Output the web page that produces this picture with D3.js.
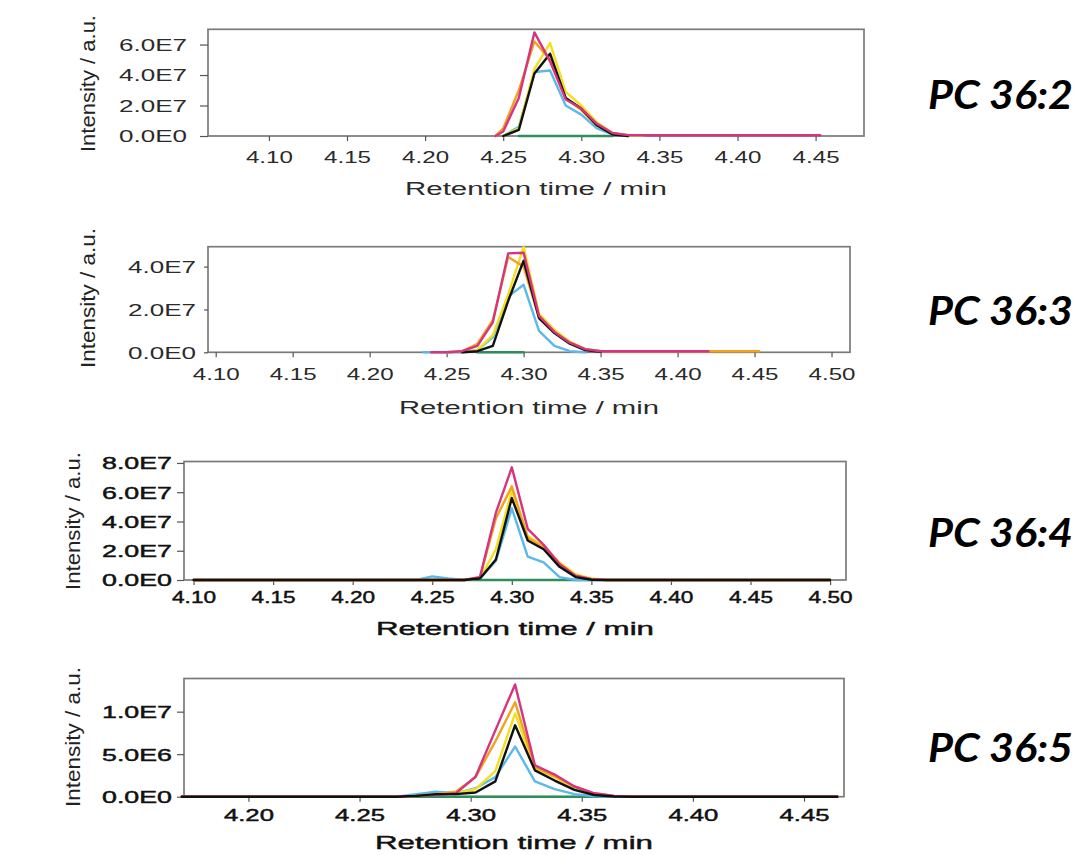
<!DOCTYPE html>
<html><head><meta charset="utf-8">
<script src="https://cdn.jsdelivr.net/npm/d3@7"></script>
<style>html,body{margin:0;padding:0;background:#fff;} svg{display:block;}</style>
</head><body>
<svg id="c" width="1082" height="855"></svg>
<script>
// ---------------- DATA ----------------
const compoundLabels = ["PC 36:2", "PC 36:3", "PC 36:4", "PC 36:5"];

// Panel 1 : PC 36:2
const p1Times  = [4.245, 4.25, 4.26, 4.27, 4.28, 4.29, 4.30, 4.31, 4.32, 4.33, 4.34, 4.453];
const p1Pink   = [0, 0.3e7, 2.5e7, 6.8e7, 4.9e7, 2.4e7, 1.8e7, 0.8e7, 0.2e7, 0.06e7, 0.05e7, 0.05e7];
const p1Orange = [0, 0.5e7, 3.0e7, 6.2e7, 5.0e7, 2.5e7, 1.7e7, 0.7e7, 0.15e7, 0.05e7, null, null];
const p1Yellow = [null, 0, 0.5e7, 4.4e7, 6.1e7, 2.9e7, 2.0e7, 0.9e7, 0.2e7, 0.05e7, 0.03e7, null];
const p1Black  = [null, 0, 0.4e7, 4.1e7, 5.4e7, 2.5e7, 1.8e7, 0.7e7, 0.1e7, 0, null, null];
const p1Blue   = [null, 0, 0.6e7, 4.2e7, 4.3e7, 2.0e7, 1.4e7, 0.5e7, 0.1e7, 0, null, null];
const p1Green  = [null, null, 0, 0, 0, 0, 0, 0, 0, null, null, null];
const p1XTicks = [4.10, 4.15, 4.20, 4.25, 4.30, 4.35, 4.40, 4.45];
const p1YTicks = [0, 2e7, 4e7, 6e7];
const p1YTickLabels = ["0.0E0", "2.0E7", "4.0E7", "6.0E7"];

// Panel 2 : PC 36:3
const p2Times  = [4.235, 4.24, 4.25, 4.26, 4.27, 4.28, 4.29, 4.30, 4.31, 4.32, 4.33, 4.34, 4.35, 4.42, 4.453];
const p2Pink   = [null, 0, 0, 0.05e7, 0.3e7, 1.4e7, 4.62e7, 4.65e7, 1.7e7, 0.95e7, 0.45e7, 0.15e7, 0.05e7, 0.05e7, null];
const p2Orange = [null, null, 0, 0.05e7, 0.4e7, 1.5e7, 4.45e7, 4.0e7, 1.6e7, 0.95e7, 0.45e7, 0.15e7, 0.05e7, 0.05e7, 0.05e7];
const p2Yellow = [null, null, null, 0, 0.1e7, 0.8e7, 2.7e7, 4.93e7, 1.8e7, 1.05e7, 0.5e7, 0.15e7, 0.05e7, null, null];
const p2Black  = [null, null, null, 0, 0.05e7, 0.3e7, 2.4e7, 4.28e7, 1.6e7, 0.9e7, 0.4e7, 0.1e7, 0.02e7, null, null];
const p2Blue   = [0, 0, 0, 0, 0.1e7, 0.7e7, 2.6e7, 3.15e7, 1.0e7, 0.3e7, 0.05e7, 0, null, null, null];
const p2Green  = [null, null, null, null, 0, 0, 0, 0, null, null, null, null, null, null, null];
const p2XTicks = [4.10, 4.15, 4.20, 4.25, 4.30, 4.35, 4.40, 4.45, 4.50];
const p2YTicks = [0, 2e7, 4e7];
const p2YTickLabels = ["0.0E0", "2.0E7", "4.0E7"];

// Panel 3 : PC 36:4
const p3Times  = [4.10, 4.24, 4.25, 4.26, 4.27, 4.28, 4.29, 4.30, 4.31, 4.32, 4.33, 4.34, 4.35, 4.36, 4.50];
const p3Pink   = [0, 0, 0, 0, 0, 0.2e7, 4.6e7, 7.7e7, 3.5e7, 2.4e7, 1.1e7, 0.3e7, 0.05e7, 0, 0];
const p3Orange = [0, 0, 0, 0, 0, 0.2e7, 4.2e7, 6.4e7, 2.9e7, 2.2e7, 1.0e7, 0.3e7, 0.05e7, 0, 0];
const p3Yellow = [0, 0, 0, 0, 0, 0.1e7, 2.1e7, 6.1e7, 3.0e7, 2.3e7, 1.2e7, 0.4e7, 0.1e7, 0, 0];
const p3Black  = [0, 0, 0, 0, 0, 0.1e7, 1.4e7, 5.6e7, 2.7e7, 2.1e7, 0.9e7, 0.2e7, 0.02e7, 0, 0];
const p3Blue   = [0, 0, 0.25e7, 0.1e7, 0, 0.1e7, 1.3e7, 4.9e7, 1.6e7, 1.2e7, 0.2e7, 0, 0, 0, 0];
const p3Green  = [0, 0, 0, 0, 0, 0, 0, 0, 0, 0, 0, 0, 0, 0, 0];
const p3XTicks = [4.10, 4.15, 4.20, 4.25, 4.30, 4.35, 4.40, 4.45, 4.50];
const p3YTicks = [0, 2e7, 4e7, 6e7, 8e7];
const p3YTickLabels = ["0.0E0", "2.0E7", "4.0E7", "6.0E7", "8.0E7"];

// Panel 4 : PC 36:5
const p4Times  = [4.17, 4.2666, 4.2755, 4.2844, 4.2933, 4.3022, 4.3111, 4.32, 4.3289, 4.3378, 4.3467, 4.3556, 4.3645, 4.3734, 4.465];
const p4Pink   = [0, 0, 0.1e6, 0.2e6, 0.4e6, 2.35e6, 7.8e6, 13.2e6, 3.7e6, 2.6e6, 1.2e6, 0.4e6, 0.1e6, 0, 0];
const p4Orange = [0, 0, 0.1e6, 0.3e6, 0.6e6, 2.3e6, 6.5e6, 11.1e6, 3.5e6, 2.4e6, 1.2e6, 0.4e6, 0.1e6, 0, 0];
const p4Yellow = [0, 0, 0.1e6, 0.3e6, 0.4e6, 0.9e6, 3.0e6, 9.8e6, 3.3e6, 2.3e6, 1.0e6, 0.3e6, 0.05e6, 0, 0];
const p4Black  = [0, 0, 0.1e6, 0.3e6, 0.3e6, 0.5e6, 1.8e6, 8.4e6, 3.1e6, 1.9e6, 0.8e6, 0.2e6, 0.02e6, 0, 0];
const p4Blue   = [0, 0, 0.3e6, 0.6e6, 0.4e6, 1.0e6, 2.3e6, 5.9e6, 1.8e6, 0.9e6, 0.3e6, 0.05e6, 0, 0, 0];
const p4Green  = [0, 0, 0, 0, 0, 0, 0, 0, 0, 0, 0, 0, 0, 0, 0];
const p4XTicks = [4.20, 4.25, 4.30, 4.35, 4.40, 4.45];
const p4YTicks = [0, 5e6, 1e7];
const p4YTickLabels = ["0.0E0", "5.0E6", "1.0E7"];

// ---------------- STYLE / LAYOUT ----------------
const seriesColors = {
  green: "#2f8f5b", blue: "#5bb9ea", yellow: "#f3df1e",
  orange: "#f2a21c", black: "#111111", pink: "#d5347f"
};
const orderTop = ["green", "blue", "yellow", "orange", "black", "pink"];
const orderBottom = ["green", "blue", "yellow", "orange", "pink", "black"];

const panels = [
  { times: p1Times, values: {pink:p1Pink, orange:p1Orange, yellow:p1Yellow, black:p1Black, blue:p1Blue, green:p1Green},
    xTicks: p1XTicks, yTicks: p1YTicks, yLabels: p1YTickLabels, order: orderTop, ink: "#2a2a2a", heavy: 0,
    l: 208, r: 864, t: 29.3, b: 136, xd: [4.061, 4.481], yd: [0, 7.0e7],
    yTickSize: 8, yLabelGap: 21, yLabW: 68, xLabY: 20.7, xLabW: 47, titleY: 53, titleW: 262, titleF: 18,
    axTitleX: 88, axTitleY: 83.5, axTitleLen: 137, compY: 95 },
  { times: p2Times, values: {pink:p2Pink, orange:p2Orange, yellow:p2Yellow, black:p2Black, blue:p2Blue, green:p2Green},
    xTicks: p2XTicks, yTicks: p2YTicks, yLabels: p2YTickLabels, order: orderTop, ink: "#2a2a2a", heavy: 0,
    l: 208, r: 850, t: 246.7, b: 352.3, xd: [4.095, 4.512], yd: [0, 4.93e7],
    yTickSize: 4, yLabelGap: 12, yLabW: 68, xLabY: 21.7, xLabW: 47, titleY: 55, titleW: 260, titleF: 18,
    axTitleX: 88, axTitleY: 298, axTitleLen: 140, compY: 311 },
  { times: p3Times, values: {pink:p3Pink, orange:p3Orange, yellow:p3Yellow, black:p3Black, blue:p3Blue, green:p3Green},
    xTicks: p3XTicks, yTicks: p3YTicks, yLabels: p3YTickLabels, order: orderBottom, ink: "#111", heavy: 0.45,
    l: 184, r: 846, t: 461.5, b: 580, xd: [4.094, 4.510], yd: [0, 8.1e7],
    yTickSize: 7, yLabelGap: 12, yLabW: 70, xLabY: 17.5, xLabW: 44, titleY: 48.5, titleW: 278, titleF: 19,
    axTitleX: 73, axTitleY: 521, axTitleLen: 138, compY: 533 },
  { times: p4Times, values: {pink:p4Pink, orange:p4Orange, yellow:p4Yellow, black:p4Black, blue:p4Blue, green:p4Green},
    xTicks: p4XTicks, yTicks: p4YTicks, yLabels: p4YTickLabels, order: orderBottom, ink: "#111", heavy: 0.45,
    l: 184, r: 844, t: 678.5, b: 796.7, xd: [4.171, 4.468], yd: [0, 1.39e7],
    yTickSize: 7, yLabelGap: 12, yLabW: 70, xLabY: 18, xLabW: 50, titleY: 46, titleW: 278, titleF: 19,
    axTitleX: 73, axTitleY: 737, axTitleLen: 140, compY: 748 }
];

const svg = d3.select("#c");
const FONT = "'Liberation Sans', Arial, sans-serif";

function ink(sel, p) {
  sel.attr("fill", p.ink);
  if (p.heavy > 0) sel.attr("stroke", p.ink).attr("stroke-width", p.heavy);
  return sel;
}

panels.forEach((p, pi) => {
  const x = d3.scaleLinear().domain(p.xd).range([p.l, p.r]);
  const y = d3.scaleLinear().domain(p.yd).range([p.b, p.t]);
  const g = svg.append("g");

  // frame
  g.append("rect")
    .attr("x", p.l).attr("y", p.t).attr("width", p.r - p.l).attr("height", p.b - p.t)
    .attr("fill", "none").attr("stroke", "#7a7a7a").attr("stroke-width", 1.7);

  // x axis
  const xa = d3.axisBottom(x).tickValues(p.xTicks).tickFormat(d3.format(".2f")).tickSize(5).tickSizeOuter(0);
  const gx = g.append("g").attr("transform", `translate(0,${p.b})`).call(xa);
  gx.select(".domain").remove();
  gx.selectAll(".tick line").attr("stroke", "#555").attr("stroke-width", 1.2);
  ink(gx.selectAll(".tick text")
    .attr("y", p.xLabY).attr("dy", "0.35em")
    .attr("font-family", FONT).attr("font-size", 17)
    .attr("textLength", p.xLabW).attr("lengthAdjust", "spacingAndGlyphs"), p);

  // y axis
  const ya = d3.axisLeft(y).tickValues(p.yTicks).tickFormat((d, i) => p.yLabels[i]).tickSize(p.yTickSize).tickSizeOuter(0);
  const gy = g.append("g").attr("transform", `translate(${p.l},0)`).call(ya);
  gy.select(".domain").remove();
  gy.selectAll(".tick line").attr("stroke", "#555").attr("stroke-width", 1.2);
  ink(gy.selectAll(".tick text")
    .attr("x", -p.yLabelGap).attr("dy", "0.35em")
    .attr("font-family", FONT).attr("font-size", 17)
    .attr("textLength", p.yLabW).attr("lengthAdjust", "spacingAndGlyphs"), p);

  // lines
  const line = d3.line().defined(d => d[1] != null).x(d => x(d[0])).y(d => y(d[1]));
  p.order.forEach(name => {
    const vals = p.values[name];
    const pts = p.times.map((t, i) => [t, vals[i]]);
    g.append("path").attr("d", line(pts))
      .attr("fill", "none").attr("stroke", seriesColors[name])
      .attr("stroke-width", 2.4).attr("stroke-linejoin", "round").attr("stroke-linecap", "round");
  });

  // x axis title
  ink(g.append("text")
    .attr("x", (p.l + p.r) / 2).attr("y", p.b + p.titleY).attr("dy", "0.35em")
    .attr("text-anchor", "middle").attr("font-family", FONT).attr("font-size", p.titleF)
    .attr("textLength", p.titleW).attr("lengthAdjust", "spacingAndGlyphs")
    .text("Retention time / min"), p);

  // y axis title
  g.append("text")
    .attr("transform", `translate(${p.axTitleX},${p.axTitleY}) rotate(-90)`)
    .attr("dy", "0.35em")
    .attr("text-anchor", "middle").attr("font-family", FONT).attr("font-size", 21).attr("fill", "#222")
    .attr("textLength", p.axTitleLen).attr("lengthAdjust", "spacingAndGlyphs")
    .text("Intensity / a.u.");

  // compound label
  svg.append("text")
    .attr("x", 928).attr("y", p.compY).attr("dy", "0.36em")
    .attr("font-family", "Lato, 'Open Sans', sans-serif").attr("font-weight", "bold").attr("font-style", "italic")
    .attr("font-size", 40).attr("fill", "#000")
    .attr("textLength", 145).attr("lengthAdjust", "spacingAndGlyphs")
    .text(compoundLabels[pi]);
});
</script>
</body></html>
